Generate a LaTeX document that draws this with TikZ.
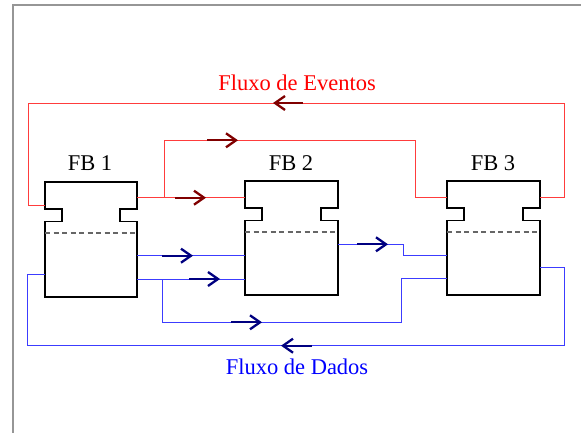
\documentclass[tikz,border=0pt]{standalone}
\usepackage{fontspec}
\setmainfont{Liberation Serif}
\usetikzlibrary{arrows.meta}
\definecolor{evred}{RGB}{255,60,60}
\definecolor{evdark}{RGB}{128,0,0}
\definecolor{dtblue}{RGB}{60,60,255}
\definecolor{dtdark}{RGB}{0,0,128}
\definecolor{framegray}{RGB}{150,150,150}
\newcommand\FBdraw[4]{%
  \draw[blk] (#1,#3) -- (#2,#3) -- (#2,#3+27) -- (#2-17,#3+27) -- (#2-17,#3+39.5) -- (#2,#3+39.5) -- (#2,#4) -- (#1,#4) -- (#1,#3+39.5) -- (#1+17,#3+39.5) -- (#1+17,#3+27) -- (#1,#3+27) -- cycle;
  \draw[dsh] (#1,#3+51) -- (#2,#3+51);}
\begin{document}
\begin{tikzpicture}[x=1pt,y=-1pt,
  blk/.style={draw=black,line width=1.8pt,line join=miter},
  dsh/.style={draw=black!60,line width=1.3pt,dash pattern=on 5pt off 3.5pt},
  evline/.style={draw=evred,line width=0.9pt},
  dtline/.style={draw=dtblue,line width=0.9pt},
  evarrow/.style={draw=evdark,line width=2.3pt,-{Straight Barb[length=10pt,width=14pt]}},
  dtarrow/.style={draw=dtdark,line width=2.3pt,-{Straight Barb[length=10pt,width=14pt]}},
  lbl/.style={font=\fontsize{22.5}{26}\selectfont,anchor=base,inner sep=0pt}]
\useasboundingbox (0,0) rectangle (581,433);
\draw[framegray,line width=1.5pt] (13,433) -- (13,5) -- (581,5);

% blocks
\FBdraw{45}{137}{182}{297}
\FBdraw{245}{338}{181}{295}
\FBdraw{447}{540}{181}{295}
\node[lbl] (t1) at (90,170.7) {FB 1};
\node[lbl] (t2) at (291,170.7) {FB 2};
\node[lbl] (t3) at (493,170.7) {FB 3};
\node[lbl,text=red] (tev) at (297,91) {Fluxo de Eventos};
\node[lbl,text=blue] (tdt) at (297,374.3) {Fluxo de Dados};

% ports
\coordinate (e1i) at (45,205.3);
\coordinate (e1o) at (137,197.7);
\coordinate (e2i) at (245,197.7);
\coordinate (e3i) at (447,197.7);
\coordinate (e3o) at (540,197.7);
\coordinate (d1i) at (45,274);
\coordinate (d1o1) at (137,255.7);
\coordinate (d1o2) at (137,279);
\coordinate (d2i1) at (245,255.7);
\coordinate (d2i2) at (245,279);
\coordinate (d2o) at (338,244.3);
\coordinate (d3i1) at (447,255.7);
\coordinate (d3i2) at (447,278.7);
\coordinate (d3o) at (540,267.3);
\coordinate (eb) at (164.3,197.7);
\coordinate (db) at (162.7,279);

% event lines
\draw[evline] (e3o) -- (564,197.7) -- (564,103) -- (28,103) -- (28,205.3) -- (e1i);
\draw[evline] (e1o) -- (e2i);
\draw[evline] (eb) -- (164.3,140.3) -- (415.7,140.3) -- (415.7,197.7) -- (e3i);

% data lines
\draw[dtline] (d1o1) -- (d2i1);
\draw[dtline] (d1o2) -- (d2i2);
\draw[dtline] (db) -- (162.7,322.3) -- (401.7,322.3) -- (401.7,278.7) -- (d3i2);
\draw[dtline] (d2o) -- (403.7,244.3) -- (403.7,255.7) -- (d3i1);
\draw[dtline] (d3o) -- (564.3,267.3) -- (564.3,345.7) -- (27.7,345.7) -- (27.7,274) -- (d1i);

% arrows
\draw[evarrow] (303,103) -- (273,103);
\draw[evarrow] (175,197.7) -- (206,197.7);
\draw[evarrow] (207,140.3) -- (238,140.3);
\draw[dtarrow] (162,255.7) -- (193,255.7);
\draw[dtarrow] (189,279) -- (220,279);
\draw[dtarrow] (231,322.3) -- (262,322.3);
\draw[dtarrow] (357,244.3) -- (388,244.3);
\draw[dtarrow] (312,345.7) -- (281,345.7);
\end{tikzpicture}
\end{document}
